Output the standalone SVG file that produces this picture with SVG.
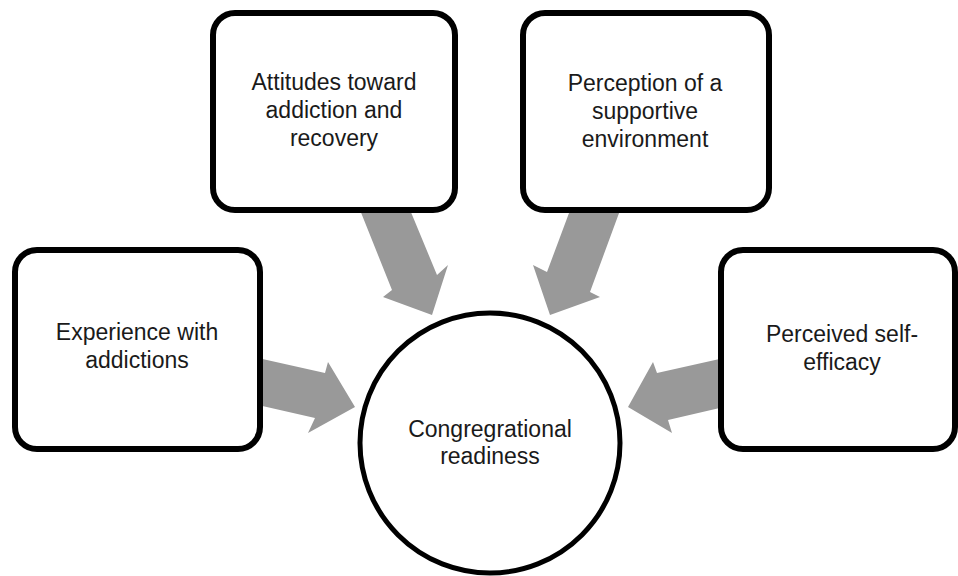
<svg xmlns="http://www.w3.org/2000/svg" width="958" height="576" viewBox="0 0 958 576">
<style>
.box{fill:#fff;stroke:#000;stroke-width:6}
.arrow{fill:#999;stroke:none}
text{font-family:"Liberation Sans",Arial,sans-serif;font-size:23px;fill:#1a1a1a;text-anchor:middle}
</style>
<rect width="958" height="576" fill="#fff"/>
<g id="connectors">
<polygon class="arrow" points="358,205 408,205 437,275 448,265 432,315 383,297 392,290"/>
<polygon class="arrow" points="572,205 622,205 590,292 600,297 550,315 533,265 547,272"/>
<polygon class="arrow" points="258,358 325,373 328,362 355,407 308,433 315,418 258,405"/>
<polygon class="arrow" points="724,358 657,373 653,362 628,407 672,433 668,420 724,407"/>
</g>
<g id="node-attitudes">
<rect class="box" x="213" y="13" width="242" height="197" rx="22"/>
<text x="334" y="90">Attitudes toward</text>
<text x="334" y="118">addiction and</text>
<text x="334" y="146">recovery</text>
</g>
<g id="node-perception">
<rect class="box" x="523" y="13" width="246" height="197" rx="22"/>
<text x="645" y="91">Perception of a</text>
<text x="645" y="119">supportive</text>
<text x="645" y="147">environment</text>
</g>
<g id="node-experience">
<rect class="box" x="15" y="250" width="245" height="199" rx="22"/>
<text x="137" y="340">Experience with</text>
<text x="137" y="368">addictions</text>
</g>
<g id="node-selfefficacy">
<rect class="box" x="721" y="250" width="234" height="199" rx="22"/>
<text x="842" y="342">Perceived self-</text>
<text x="842" y="370">efficacy</text>
</g>
<g id="node-readiness">
<circle class="box" cx="490" cy="443" r="130" style="stroke-width:5"/>
<text x="490" y="437">Congregrational</text>
<text x="490" y="464">readiness</text>
</g>
</svg>
